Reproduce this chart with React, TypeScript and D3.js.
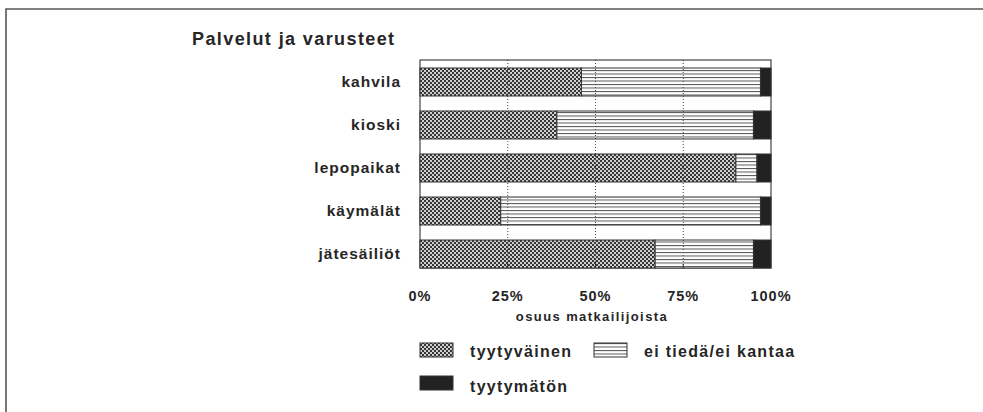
import React from "react";
import * as d3 from "d3";

const categories = ["kahvila", "kioski", "lepopaikat", "käymälät", "jätesäiliöt"];
const satisfied = [46, 39, 90, 23, 67];
const noOpinion = [51, 56, 6, 74, 28];
const dissatisfied = [3, 5, 4, 3, 5];
const tickValues = [0, 25, 50, 75, 100];
const tickLabels = ["0%", "25%", "50%", "75%", "100%"];
const seriesNames = ["tyytyväinen", "ei tiedä/ei kantaa", "tyytymätön"];
const title = "Palvelut ja varusteet";
const axisTitle = "osuus matkailijoista";

const W = 983;
const H = 412;
const FONT = "'Liberation Sans', Arial, Helvetica, sans-serif";
const TXT = "#262626";

export default function App() {
  const x = d3.scaleLinear().domain([0, 100]).range([420, 771]);
  const y = d3
    .scaleBand<string>()
    .domain(categories)
    .range([68, 268])
    .paddingInner(0.349)
    .paddingOuter(0);
  const frameTop = 60;
  const frameBottom = 268;
  const fills = ["url(#checker)", "url(#hlines)", "#222"];

  const stacked = categories.map((c, i) => {
    const vals = [satisfied[i], noOpinion[i], dissatisfied[i]];
    let acc = 0;
    return vals.map((v, k) => {
      const s = acc;
      acc += v;
      return { c, k, x0: s, x1: Math.min(acc, 100) };
    });
  });

  return (
    <svg
      width={W}
      height={H}
      style={{ position: "absolute", left: 0, top: 0, background: "#fff" }}
      fontFamily={FONT}
    >
      <defs>
        <pattern id="checker" width="4" height="4" patternUnits="userSpaceOnUse">
          <rect width="4" height="4" fill="#cfcfcf" />
          <rect x="0" y="0" width="2" height="2" fill="#363636" />
          <rect x="2" y="2" width="2" height="2" fill="#363636" />
        </pattern>
        <pattern id="hlines" width="4" height="3.5" patternUnits="userSpaceOnUse">
          <rect width="4" height="3.5" fill="#fff" />
          <rect x="0" y="0" width="4" height="1" fill="#555" />
        </pattern>
      </defs>

      {/* outer frame */}
      <path d={`M6,${H} L6,9 L${W},9`} fill="none" stroke="#555" strokeWidth={1.6} />

      <text x={192} y={45} fontSize={18} fontWeight={700} fill={TXT} letterSpacing={1.4}>
        {title}
      </text>

      {/* plot frame */}
      <rect
        x={x(0)}
        y={frameTop}
        width={x(100) - x(0)}
        height={frameBottom - frameTop}
        fill="#fff"
        stroke="#444"
        strokeWidth={1.2}
      />

      {/* bars */}
      {stacked.map((segs) =>
        segs.map((s) => (
          <rect
            key={s.c + s.k}
            x={x(s.x0)}
            y={y(s.c)}
            width={x(s.x1) - x(s.x0)}
            height={y.bandwidth()}
            fill={fills[s.k]}
            stroke="#333"
            strokeWidth={1}
          />
        ))
      )}

      {/* gridlines */}
      {tickValues.slice(1, 4).map((t) => (
        <g key={t}>
          <line
            x1={x(t)}
            x2={x(t)}
            y1={frameTop}
            y2={frameBottom}
            stroke="#444"
            strokeWidth={1}
            strokeDasharray="1,2"
          />
          <line x1={x(t)} x2={x(t)} y1={frameBottom - 4} y2={frameBottom} stroke="#333" strokeWidth={1} />
        </g>
      ))}

      {/* category labels */}
      {categories.map((c) => (
        <text
          key={c}
          x={401}
          y={(y(c) as number) + y.bandwidth() / 2}
          dy="0.35em"
          textAnchor="end"
          fontSize={15.5}
          fontWeight={700}
          fill={TXT}
          letterSpacing={1}
        >
          {c}
        </text>
      ))}

      {/* tick labels */}
      {tickValues.map((t, i) => (
        <text
          key={t}
          x={x(t)}
          y={301}
          textAnchor="middle"
          fontSize={14.5}
          fontWeight={700}
          fill={TXT}
          letterSpacing={1}
        >
          {tickLabels[i]}
        </text>
      ))}
      <text x={592} y={321} textAnchor="middle" fontSize={13} fontWeight={700} fill={TXT} letterSpacing={1.4}>
        {axisTitle}
      </text>

      {/* legend */}
      {[
        { sx: 420, sy: 343, lx: 470, ly: 357 },
        { sx: 594, sy: 343, lx: 644, ly: 357 },
        { sx: 420, sy: 376, lx: 470, ly: 392 },
      ].map((p, k) => (
        <g key={k}>
          <rect x={p.sx} y={p.sy} width={33} height={14} fill={fills[k]} stroke="#333" strokeWidth={1} />
          <text x={p.lx} y={p.ly} fontSize={16} fontWeight={700} fill={TXT} letterSpacing={1.3}>
            {seriesNames[k]}
          </text>
        </g>
      ))}
    </svg>
  );
}
